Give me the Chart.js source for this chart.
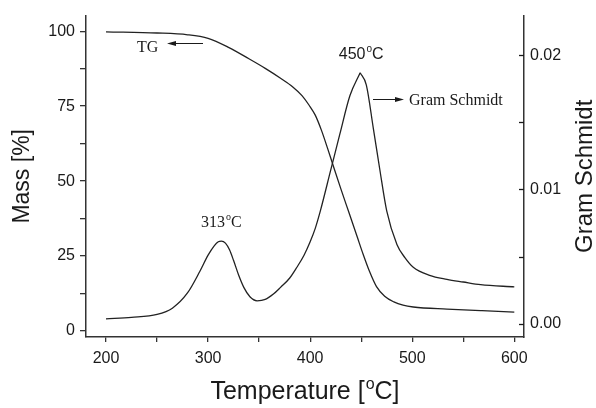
<!DOCTYPE html>
<html>
<head>
<meta charset="utf-8">
<script src="https://cdn.jsdelivr.net/npm/chart.js@4.4.1/dist/chart.umd.min.js"></script>
<style>
  html, body { margin: 0; padding: 0; background: #fff; }
</style>
</head>
<body>
<canvas id="tgChart" width="596" height="408"></canvas>
<script>
// TG curve (mass %, left axis)
const tgTemp = [200, 250, 280, 300, 320, 340, 356, 371, 383, 392, 399, 405, 411, 417, 423, 430, 438, 446, 452, 458, 465, 473, 482, 491, 501, 534, 567, 600];
const tgMass = [99.8, 99.4, 98.8, 97.6, 94.6, 90.8, 87.6, 84.3, 81.4, 78.5, 75.3, 72.0, 67.0, 61.0, 54.7, 47.5, 39.5, 31.5, 25.5, 20.0, 14.8, 11.6, 9.7, 8.6, 8.0, 7.3, 6.8, 6.3];

// Gram Schmidt curve (right axis)
const gsTemp = [200, 225, 250, 265, 280, 292, 300, 306, 310, 313, 317, 321, 325, 330, 335, 341, 348, 356, 364, 371, 380, 387, 394, 400, 405, 410, 420, 429, 439, 449, 455, 462, 468, 475, 485, 493, 501, 517, 534, 550, 567, 600];
const gsValue = [0.00035, 0.00046, 0.00068, 0.00115, 0.0023, 0.0039, 0.0051, 0.0058, 0.0061, 0.00615, 0.0060, 0.0055, 0.0047, 0.0036, 0.0027, 0.0020, 0.0017, 0.0018, 0.0022, 0.0027, 0.0034, 0.0042, 0.0051, 0.0061, 0.0071, 0.0084, 0.0114, 0.0141, 0.0170, 0.0187, 0.0178, 0.0145, 0.0116, 0.0084, 0.0059, 0.0049, 0.0042, 0.0036, 0.0033, 0.0031, 0.0029, 0.00274];

// peak labels
const peakTemps = [313, 450];

const xTicks = [200, 300, 400, 500, 600];
const massTicks = [0, 25, 50, 75, 100];
const gsTicks = [0, 0.01, 0.02];

const ink = '#1a1a1a';
const sansFont = '"Liberation Sans", Arial, sans-serif';
const serifFont = '"Liberation Serif", "Times New Roman", serif';

function toPoints(xs, ys) {
  return xs.map((x, i) => ({ x: x, y: ys[i] }));
}

// the GS peak is a sharp point, so the curve is split there and each side is smoothed alone
const gsPeak = gsValue.indexOf(Math.max(...gsValue));
const gsPoints = toPoints(gsTemp, gsValue);

// writes "pre" + superscript o + "post", starting at x
function drawDegree(ctx, pre, post, x, y, size, family) {
  ctx.font = size + 'px ' + family;
  ctx.fillText(pre, x, y);
  x += ctx.measureText(pre).width + 1;
  const small = Math.round(size * 0.62);
  ctx.font = small + 'px ' + family;
  ctx.fillText('o', x, y - size * 0.42);
  x += ctx.measureText('o').width;
  ctx.font = size + 'px ' + family;
  ctx.fillText(post, x, y);
}

function degreeWidth(ctx, pre, post, size, family) {
  ctx.font = size + 'px ' + family;
  let w = ctx.measureText(pre).width + ctx.measureText(post).width + 1;
  ctx.font = Math.round(size * 0.62) + 'px ' + family;
  return w + ctx.measureText('o').width;
}

function arrow(ctx, x1, y, x2) {
  const dir = Math.sign(x2 - x1);
  ctx.beginPath();
  ctx.moveTo(x1, y);
  ctx.lineTo(x2 - dir * 6, y);
  ctx.stroke();
  ctx.beginPath();
  ctx.moveTo(x2, y);
  ctx.lineTo(x2 - dir * 9, y - 2.5);
  ctx.lineTo(x2 - dir * 9, y + 2.5);
  ctx.closePath();
  ctx.fill();
}

const decorations = {
  id: 'decorations',
  afterDraw(chart) {
    const ctx = chart.ctx;
    const area = chart.chartArea;
    const xs = chart.scales.x;
    const yg = chart.scales.y1;
    ctx.save();
    ctx.fillStyle = ink;
    ctx.strokeStyle = ink;

    // right axis ticks point into the plot
    ctx.lineWidth = 1.3;
    yg.ticks.forEach(t => {
      const py = Math.round(yg.getPixelForValue(t.value)) + 0.5;
      ctx.beginPath();
      ctx.moveTo(area.right, py);
      ctx.lineTo(area.right - 5, py);
      ctx.stroke();
    });
    ctx.lineWidth = 1;

    // axis titles
    ctx.textAlign = 'left';
    ctx.textBaseline = 'alphabetic';
    const tw = degreeWidth(ctx, 'Temperature [', 'C]', 25, sansFont);
    drawDegree(ctx, 'Temperature [', 'C]', (area.left + area.right) / 2 - tw / 2, 399, 25, sansFont);

    ctx.textAlign = 'center';
    ctx.textBaseline = 'middle';
    ctx.font = '23px ' + sansFont;
    ctx.save();
    ctx.translate(23, (area.top + area.bottom) / 2);
    ctx.rotate(-Math.PI / 2);
    ctx.fillText('Mass [%]', 0, 0);
    ctx.restore();
    ctx.font = '24px ' + sansFont;
    ctx.save();
    ctx.translate(585, (area.top + area.bottom) / 2);
    ctx.rotate(-Math.PI / 2);
    ctx.fillText('Gram Schmidt', 0, 0);
    ctx.restore();

    // peak temperatures
    ctx.textAlign = 'left';
    ctx.textBaseline = 'alphabetic';
    const peakY = [227, 59];
    peakTemps.forEach((t, i) => {
      const fam = i === 0 ? serifFont : sansFont;
      const w = degreeWidth(ctx, String(t), 'C', 16, fam);
      drawDegree(ctx, String(t), 'C', xs.getPixelForValue(t) - w / 2, peakY[i], 16, fam);
    });

    // curve names with arrows
    ctx.font = '16px ' + serifFont;
    ctx.textBaseline = 'middle';
    ctx.fillText('TG', 137, 48);
    arrow(ctx, 203, 43.5, 167);
    arrow(ctx, 373, 99.5, 404);
    ctx.fillText('Gram Schmidt', 409, 101);

    ctx.restore();
  }
};

Chart.defaults.font.family = sansFont;
Chart.defaults.color = ink;

const lineStyle = {
  showLine: true,
  borderColor: '#222',
  borderWidth: 1.3,
  pointRadius: 0,
  cubicInterpolationMode: 'monotone'
};

new Chart(document.getElementById('tgChart').getContext('2d'), {
  type: 'scatter',
  data: {
    datasets: [
      Object.assign({ label: 'TG', data: toPoints(tgTemp, tgMass), yAxisID: 'y' }, lineStyle),
      Object.assign({ label: 'Gram Schmidt', data: gsPoints.slice(0, gsPeak + 1), yAxisID: 'y1' }, lineStyle),
      Object.assign({ label: 'Gram Schmidt ', data: gsPoints.slice(gsPeak), yAxisID: 'y1' }, lineStyle)
    ]
  },
  options: {
    responsive: false,
    animation: false,
    layout: { padding: { top: 13 } },
    plugins: {
      legend: { display: false },
      tooltip: { enabled: false }
    },
    scales: {
      x: {
        type: 'linear',
        min: 180.4,
        max: 609.5,
        afterFit: s => { s.height = 71; },
        border: { color: '#333', width: 1.5 },
        grid: { drawOnChartArea: false, tickLength: 5, color: '#333', lineWidth: 1.3 },
        ticks: {
          stepSize: 50,
          includeBounds: false,
          padding: 7,
          maxRotation: 0,
          font: { size: 16 },
          callback: v => xTicks.includes(v) ? String(v) : ''
        }
      },
      y: {
        position: 'left',
        min: -2,
        max: 105.2,
        afterFit: s => { s.width = 86; },
        border: { color: '#333', width: 1.5 },
        grid: { drawOnChartArea: false, tickLength: 6, color: '#333', lineWidth: 1.3 },
        ticks: {
          stepSize: 12.5,
          includeBounds: false,
          padding: 5,
          font: { size: 16 },
          callback: v => massTicks.includes(v) ? String(v) : ''
        }
      },
      y1: {
        position: 'right',
        min: -0.001,
        max: 0.02296,
        afterFit: s => { s.width = 72; },
        border: { color: '#333', width: 1.5 },
        grid: { drawOnChartArea: false, drawTicks: false },
        ticks: {
          stepSize: 0.005,
          includeBounds: false,
          padding: 6,
          font: { size: 16 },
          callback: v => {
            const hit = gsTicks.find(g => Math.abs(g - v) < 1e-6);
            return hit !== undefined ? hit.toFixed(2) : '';
          }
        }
      }
    }
  },
  plugins: [decorations]
});
</script>
</body>
</html>
